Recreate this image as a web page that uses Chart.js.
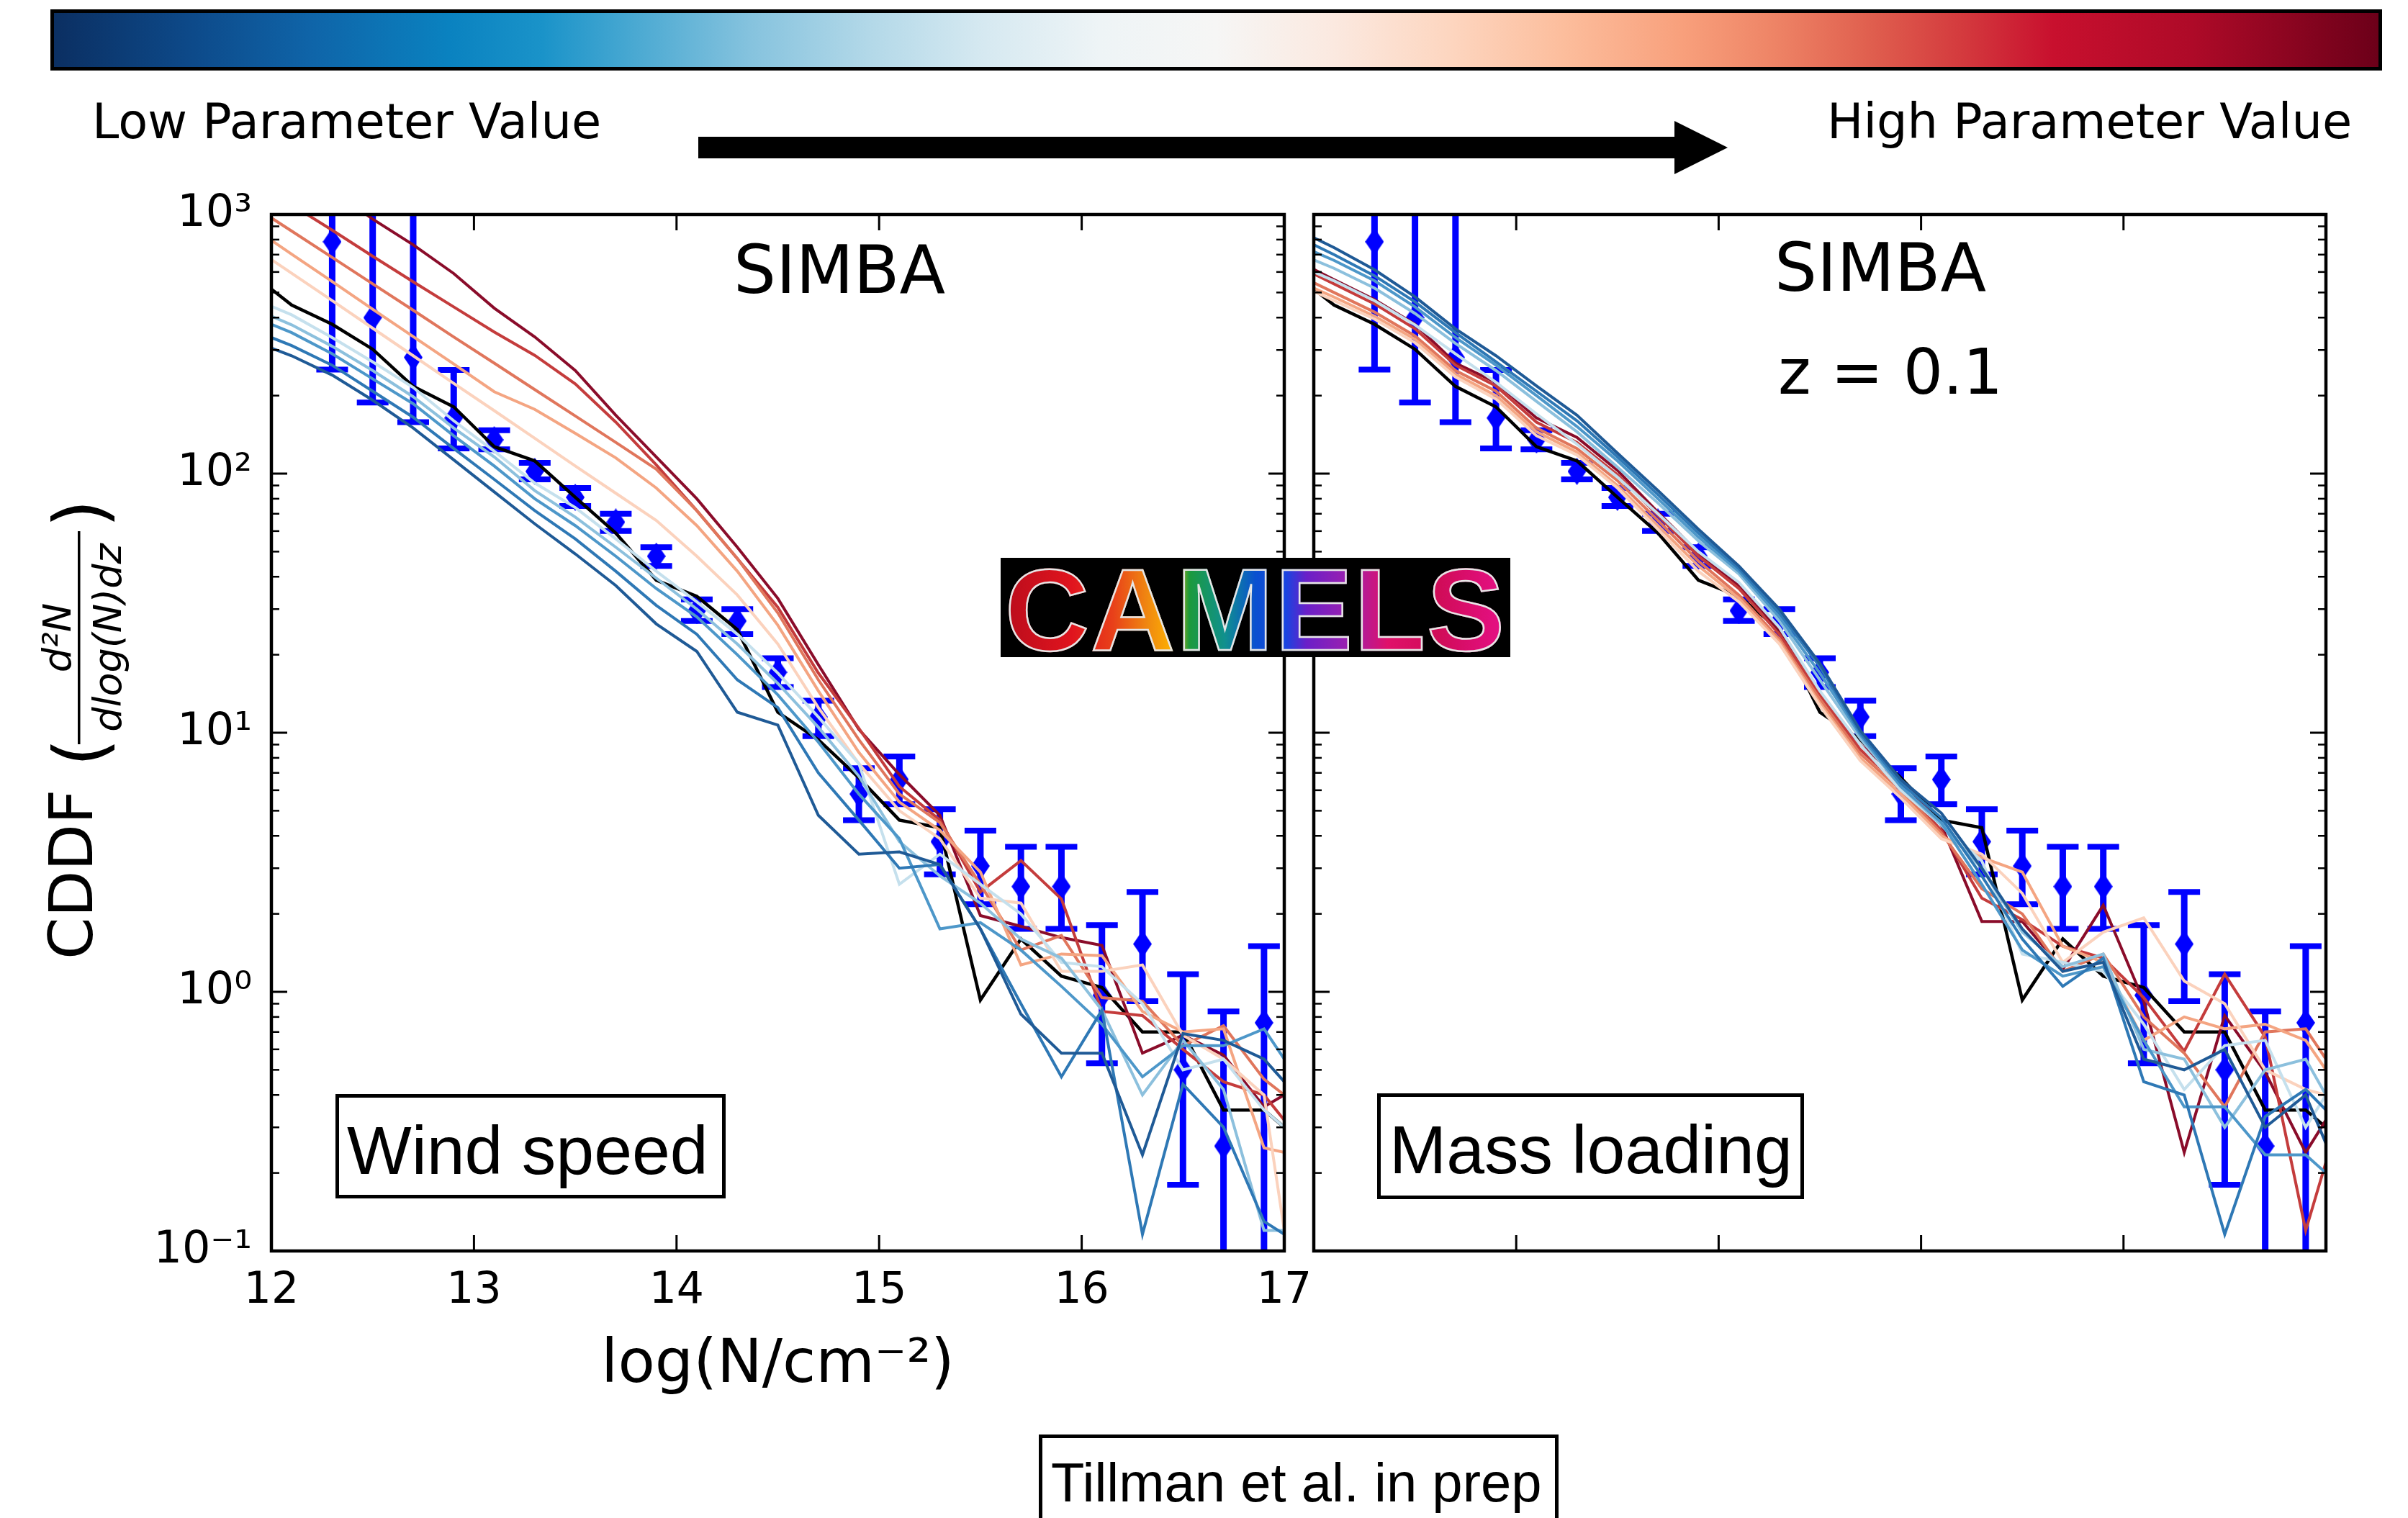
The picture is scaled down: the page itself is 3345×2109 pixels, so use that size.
<!DOCTYPE html>
<html><head><meta charset="utf-8">
<script src="https://cdn.jsdelivr.net/npm/chart.js@4.4.1/dist/chart.umd.min.js"></script>
<style>
html,body{margin:0;padding:0;background:#fff;}
body{width:3345px;height:2109px;position:relative;overflow:hidden;}
canvas{position:absolute;top:0;}
.t{position:absolute;white-space:nowrap;line-height:1;color:#000;}
.dv{font-family:"DejaVu Sans",sans-serif;}
.lib{font-family:"Liberation Sans",Arial,sans-serif;}
.c{text-align:center;}
.box{position:absolute;border:5px solid #000;box-sizing:border-box;}
#cbar{position:absolute;left:70px;top:13px;width:3239px;height:85px;border:5px solid #000;box-sizing:border-box;
background:linear-gradient(to right,#0b2f62 0%,#0d4a8a 6%,#0f64a8 11%,#0a82c0 17%,#1a93c9 21%,#4aa9d2 25%,#86c3de 30%,#b2d8e8 35%,#d6e9f1 40%,#eef4f6 45%,#f6f6f5 50%,#fbe9e0 55%,#fdd6c0 60%,#fcbd9c 65%,#f8a07c 70%,#ee8466 74%,#e0604f 78%,#d43b3e 82%,#c8102e 86%,#ae0a28 92%,#6c0019 100%);}
#logo{position:absolute;left:1390px;top:775px;width:708px;height:138px;background:#000;}
#logoText{position:absolute;left:1390px;top:778px;width:708px;height:135px;line-height:138px;text-align:center;
font-family:"Liberation Sans",Arial,sans-serif;font-weight:bold;font-size:162px;letter-spacing:2px;
background:linear-gradient(90deg,#b80c1c 0%,#e0141e 14%,#e8401a 22%,#f08a10 29%,#ffb400 34%,#1c9a3c 37%,#10908e 44%,#0a50d0 50%,#1a44e0 56%,#6a1fc8 60%,#9a20b0 68%,#e0106a 76%,#d00c58 86%,#e8108a 100%);
-webkit-background-clip:text;background-clip:text;color:transparent;-webkit-text-fill-color:transparent;-webkit-text-stroke:2.5px #e6e6e6;}
</style></head><body>
<canvas id="c1" width="1850" height="2109" style="left:0px"></canvas>
<canvas id="c2" width="1545" height="2109" style="left:1800px"></canvas>

<div id="cbar"></div>
<svg style="position:absolute;left:0;top:0" width="3345" height="260"><polygon points="970,190 2326,190 2326,168 2400,205 2326,242 2326,220 970,220" fill="#000"/></svg>
<div class="t dv" style="left:128px;top:136px;font-size:67px">Low Parameter Value</div>
<div class="t dv" style="left:2538px;top:136px;font-size:67px">High Parameter Value</div>

<div class="t dv c" style="left:666px;width:1000px;top:329px;font-size:93px">SIMBA</div>
<div class="t dv c" style="left:2112px;width:1000px;top:326px;font-size:93px">SIMBA</div>
<div class="t dv c" style="left:2126px;width:1000px;top:474px;font-size:87px">z = 0.1</div>

<div class="box" style="left:466px;top:1520px;width:542px;height:145px"></div>
<div class="t lib" style="left:482px;top:1551px;font-size:95px">Wind speed</div>
<div class="box" style="left:1913px;top:1519px;width:593px;height:147px"></div>
<div class="t lib" style="left:1930px;top:1550px;font-size:95px">Mass loading</div>
<div class="box" style="left:1443px;top:1993px;width:722px;height:160px"></div>
<div class="t lib" style="left:1460px;top:2022px;font-size:76px">Tillman et al. in prep</div>

<div id="logo"></div>
<div id="logoText">CAMELS</div>

<script>
// ---------------- data ----------------
const lineX = [12.0,12.1,12.3,12.5,12.7,12.9,13.1,13.3,13.5,13.7,13.9,14.1,14.3,14.5,14.7,14.9,15.1,15.3,15.5,15.7,15.9,16.1,16.3,16.5,16.7,16.9,17.0];

const fiducial = [515,447,377,302,217,181,127,112,81,59,38.8,33.6,25,12.0,9.4,6.7,4.6,4.3,0.93,1.6,1.15,1.04,0.70,0.70,0.35,0.35,0.30];

// Wind speed panel (low -> high parameter value)
const wsDarkBlue    = [305,285,240,192,150,113,85,64,49,37,26.3,20.6,12.0,10.7,4.8,3.4,3.47,3.1,1.75,0.82,0.58,0.58,0.235,0.69,0.65,0.55,0.45];
const wsBlue        = [335,312,262,208,165,125,95,72,56,42,31,24,16,12.5,7.0,4.6,3.0,3.1,1.75,0.9,0.47,0.85,0.116,0.44,0.30,0.13,0.116];
const wsMidBlue     = [377,350,290,232,186,140,107,80,63,48,36,28,20,14,9.2,5.8,3.9,1.75,1.85,1.45,1.05,0.75,0.47,0.62,0.62,0.72,0.55];
const wsLightBlue   = [405,375,310,250,198,150,116,86,68,52,39.5,30,22,15.5,10.5,6.8,3.8,2.8,2.2,1.6,1.35,0.85,0.40,0.65,0.42,0.12,0.12];
const wsPaleBlue    = [442,410,335,270,215,160,122,92,74,56,42,32,24,17,11.5,7.6,2.6,3.4,2.6,2.0,1.3,1.25,0.9,0.5,0.55,0.35,0.30];
const wsPeach       = [670,593,465,364,285,223,175,137,107,84,66,48,34,22,12.5,7.6,5.0,3.9,2.3,2.2,1.2,1.2,1.27,0.68,0.55,0.40,0.12];
const wsLightSalmon = [795,703,551,431,338,265,207,177,143,115,88,63,42,26,14.5,8.4,5.4,4.2,2.9,1.27,1.40,1.38,0.84,0.70,0.72,0.25,0.24];
const wsSalmon      = [970,863,683,540,427,337,267,211,167,132,104,72,47,29,16,9.4,5.8,4.5,2.6,1.45,1.65,0.95,0.92,0.62,0.74,0.46,0.40];
const wsRed         = [1230,1090,870,690,550,440,352,286,222,158,108,72,47,30.5,17,10.4,6.2,4.6,2.43,3.21,2.28,0.84,0.81,0.60,0.45,0.40,0.32];
const wsDarkRed     = [1900,1650,1250,960,764,592,435,337,250,168,116,80,52,33,18.3,10.3,6.9,4.8,1.97,1.79,1.62,1.51,0.58,0.68,0.57,0.36,0.40];

// Mass loading panel (low -> high parameter value)
const mlDarkBlue    = [813,745,612,481,362,285,218,168,120,86,61,44,30,18.5,10.2,6.6,4.9,3.0,1.75,1.2,1.3,0.55,0.50,0.60,0.30,0.40,0.26];
const mlBlue        = [764,700,580,460,350,270,208,160,116,83,59,43,29,18,10,6.4,4.7,2.8,1.6,1.05,1.35,0.45,0.40,0.116,0.33,0.42,0.35];
const mlMidBlue     = [719,665,555,440,335,262,200,152,112,80,57,42,28,17,9.8,6.2,4.5,2.6,1.45,1.15,1.25,0.65,0.36,0.36,0.235,0.235,0.20];
const mlLightBlue   = [668,620,520,415,318,250,190,145,106,77,55,41,27,16,9.5,6.2,4.4,3.0,1.7,1.25,1.4,0.60,0.55,0.30,0.50,0.55,0.40];
const mlPaleBlue    = [600,555,465,375,290,225,170,130,97,70,50,38,25.5,14.5,9.0,6.0,4.4,3.2,1.4,1.3,1.2,0.75,0.42,0.62,0.65,0.30,0.40];
const mlPeach       = [505,465,395,320,236,194,140,118,88,61,42,32,22,12.7,7.8,5.6,3.9,3.4,2.4,1.3,1.7,1.93,1.1,0.90,0.50,0.42,0.40];
const mlLightSalmon = [520,480,405,330,242,200,145,121,90,63,44,33,22.5,13,8.0,5.8,4.0,3.3,2.9,1.5,1.3,0.65,0.80,0.72,0.75,0.65,0.5];
const mlSalmon      = [545,500,420,340,250,208,150,125,94,66,46,34,23,13.5,8.3,6.0,4.1,2.5,2.0,1.2,1.4,0.80,0.58,0.36,0.70,0.72,0.55];
const mlRed         = [590,540,452,362,262,218,158,132,99,69,48,36,24,14,8.6,6.2,4.2,2.3,1.9,1.5,1.35,0.95,0.59,1.17,0.67,0.12,0.22];
const mlDarkRed     = [614,560,469,377,267,225,164,138,103,71,49.5,37,25,14.3,9.0,6.6,4.4,1.87,1.87,1.22,2.16,0.92,0.24,0.81,0.49,0.24,0.32];

// Observations (same in both panels)
const obsX    = [12.3,12.5,12.7,12.9,13.1,13.3,13.5,13.7,13.9,14.1,14.3,14.5,14.7,14.9,15.1,15.3,15.5,15.7,15.9,16.1,16.3,16.5,16.7,16.9];
const obsY    = [785,400,281,164,135,102,81,65,48,29.6,27,17.1,11.5,5.8,6.6,3.8,3.06,2.55,2.55,0.97,1.53,0.50,0.254,0.76];
const obsLow  = [252,188,158,125,124,95,75,60,44,27,24,15,9.7,4.6,5.3,2.84,2.18,1.75,1.75,0.53,0.92,0.18,0.05,0.05];
const obsHigh = [3000,3000,3000,251,147,110,88,70,52,32.7,30,19.4,13.3,7.3,8.1,5.07,4.19,3.63,3.63,1.81,2.43,1.17,0.84,1.50];

// Axes
const xTickValues = [12,13,14,15,16,17];
const yTickValues = [0.1,1,10,100,1000];
const yTickLabels = ['10\u207B\u00B9','10\u2070','10\u00B9','10\u00B2','10\u00B3'];

// ---------------- styles ----------------
const seriesColors = ['#1f5a96','#2e78b5','#4d97c9','#8cc0dd','#c5e0ed','#fbd2bd','#f4a582','#e0765c','#c43c3c','#8a0c2a'];
const leftSeries  = [wsDarkBlue,wsBlue,wsMidBlue,wsLightBlue,wsPaleBlue,wsPeach,wsLightSalmon,wsSalmon,wsRed,wsDarkRed];
const rightSeries = [mlDarkBlue,mlBlue,mlMidBlue,mlLightBlue,mlPaleBlue,mlPeach,mlLightSalmon,mlSalmon,mlRed,mlDarkRed];

const diamond = document.createElement('canvas');
diamond.width = 26; diamond.height = 38;
(function(){ const g = diamond.getContext('2d'); g.fillStyle = '#0000ff'; g.beginPath();
  g.moveTo(13,0); g.lineTo(26,19); g.lineTo(13,38); g.lineTo(0,19); g.closePath(); g.fill(); })();

function buildDatasets(series){
  const ds = series.map((arr,k)=>({
    data: lineX.map((x,i)=>({x:x, y:arr[i]})),
    showLine:true, borderColor:seriesColors[k], borderWidth:4, pointRadius:0, tension:0, fill:false
  }));
  ds.push({data: lineX.map((x,i)=>({x:x, y:fiducial[i]})), showLine:true, borderColor:'#000', borderWidth:4.5, pointRadius:0, tension:0, fill:false});
  ds.push({data: obsX.map((x,i)=>({x:x, y:obsY[i]})), showLine:false, pointStyle:diamond, pointRadius:18});
  return ds;
}

// error bars are drawn beneath the simulation lines, markers on top
const errPlugin = {
  id:'errbars',
  beforeDatasetsDraw(chart){
    const {ctx, chartArea:a, scales:{x,y}} = chart;
    ctx.save();
    ctx.beginPath(); ctx.rect(a.left,a.top,a.right-a.left,a.bottom-a.top); ctx.clip();
    ctx.strokeStyle = '#0000ff'; ctx.lineCap = 'butt';
    obsX.forEach((xv,i)=>{
      const px = x.getPixelForValue(xv);
      const yl = y.getPixelForValue(obsLow[i]);
      const yh = y.getPixelForValue(obsHigh[i]);
      ctx.lineWidth = 9;
      ctx.beginPath(); ctx.moveTo(px,yl); ctx.lineTo(px,yh); ctx.stroke();
      ctx.lineWidth = 8;
      ctx.beginPath(); ctx.moveTo(px-22,yl); ctx.lineTo(px+22,yl); ctx.moveTo(px-22,yh); ctx.lineTo(px+22,yh); ctx.stroke();
    });
    ctx.restore();
  }
};

function framePlugin(withTitles){
  return {
    id:'frame',
    beforeDraw(chart){
      const {ctx, chartArea:a} = chart;
      ctx.save(); ctx.fillStyle = '#fff'; ctx.fillRect(a.left,a.top,a.right-a.left,a.bottom-a.top); ctx.restore();
    },
    afterDraw(chart){
      const {ctx, chartArea:a, scales:{x,y}} = chart;
      ctx.save();
      ctx.strokeStyle = '#000'; ctx.lineCap = 'butt';
      const seg = (x1,y1,x2,y2)=>{ ctx.beginPath(); ctx.moveTo(x1,y1); ctx.lineTo(x2,y2); ctx.stroke(); };
      ctx.lineWidth = 3;
      xTickValues.forEach(v=>{ const px = x.getPixelForValue(v); seg(px,a.bottom,px,a.bottom-22); seg(px,a.top,px,a.top+22); });
      yTickValues.forEach(v=>{ const py = y.getPixelForValue(v); seg(a.left,py,a.left+22,py); seg(a.right,py,a.right-22,py); });
      ctx.lineWidth = 2.5;
      for (let d=-1; d<3; d++) for (let m=2; m<10; m++){
        const py = y.getPixelForValue(m*Math.pow(10,d));
        seg(a.left,py,a.left+11,py); seg(a.right,py,a.right-11,py);
      }
      ctx.lineWidth = 4.5;
      ctx.strokeRect(a.left,a.top,a.right-a.left,a.bottom-a.top);
      if (withTitles){
        ctx.fillStyle = '#000';
        ctx.textBaseline = 'alphabetic';
        ctx.textAlign = 'center';
        ctx.font = '84px "DejaVu Sans"';
        ctx.fillText('log(N/cm\u207B\u00B2)', (a.left+a.right)/2, 1920);
        // rotated y title
        ctx.translate(128,1333);
        ctx.rotate(-Math.PI/2);
        ctx.textAlign = 'left';
        ctx.font = '84px "DejaVu Sans"';
        ctx.fillText('CDDF', 0, 0);
        ctx.font = '100px "DejaVu Sans"';
        ctx.fillText('(', 268, 18);
        ctx.textAlign = 'center';
        ctx.font = 'italic 54px "DejaVu Sans"';
        const fc = 447;
        ctx.fillText('d\u00B2N', fc, -30);
        ctx.fillText('dlog(N)dz', fc, 40);
        ctx.fillRect(fc-148, -20, 296, 3.5);
        ctx.textAlign = 'left';
        ctx.font = '100px "DejaVu Sans"';
        ctx.fillText(')', 600, 18);
      }
      ctx.restore();
    }
  };
}

function makeChart(id, series, isLeft){
  return new Chart(document.getElementById(id), {
    type:'scatter',
    data:{datasets: buildDatasets(series)},
    options:{
      responsive:false, animation:false, devicePixelRatio:1, events:[],
      layout:{padding: isLeft ? {left:0,top:298,right:66,bottom:0} : {left:25,top:298,right:114,bottom:371}},
      plugins:{legend:{display:false}, tooltip:{enabled:false}},
      scales:{
        x:{type:'linear', min:12, max:17, display:isLeft,
           afterBuildTicks:s=>{ s.ticks = xTickValues.map(v=>({value:v})); },
           afterFit:s=>{ if (isLeft) s.height = 371; },
           grid:{display:false, drawTicks:false}, border:{display:false},
           ticks:{color:'#000', font:{family:'DejaVu Sans', size:60}, padding:20, maxRotation:0, autoSkip:false, callback:v=>String(v)}},
        y:{type:'logarithmic', min:0.1, max:1000, display:isLeft,
           afterBuildTicks:s=>{ s.ticks = yTickValues.map(v=>({value:v})); },
           afterFit:s=>{ if (isLeft) s.width = 377; },
           grid:{display:false, drawTicks:false}, border:{display:false},
           ticks:{color:'#000', font:{family:'DejaVu Sans', size:62}, padding:27, autoSkip:false,
                  callback:v=>{ const k = yTickValues.findIndex(t=>Math.abs(t-v)/t<1e-6); return k>=0 ? yTickLabels[k] : ''; }}}
      }
    },
    plugins:[framePlugin(isLeft), errPlugin]
  });
}

makeChart('c1', leftSeries, true);
makeChart('c2', rightSeries, false);
</script>
</body></html>
